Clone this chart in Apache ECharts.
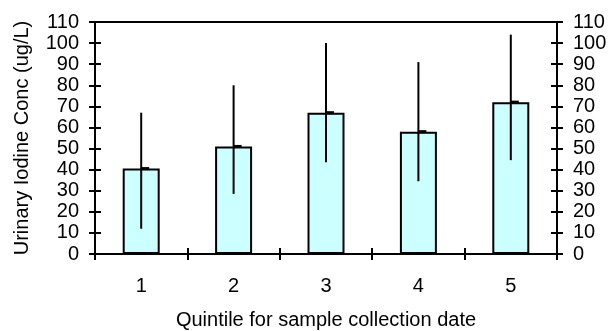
<!DOCTYPE html>
<html>
<head>
<meta charset="utf-8">
<script src="https://cdn.jsdelivr.net/npm/echarts@6/dist/echarts.min.js"></script>
<style>
  html, body { margin: 0; padding: 0; background: #fff; }
  #chart { width: 608px; height: 331px; }
</style>
</head>
<body>
<div id="chart"></div>
<script>
// values
const QUINTILES = ['1', '2', '3', '4', '5'];
const MEAN_CONC = [40.5, 51, 67, 58, 72];
const ERR_LOW = [12, 28.5, 43.5, 34.5, 44.5];
const ERR_HIGH = [67, 80, 100, 91, 104];

const FONT = "'Liberation Sans', Arial, sans-serif";

const chart = echarts.init(document.getElementById('chart'), null, { renderer: 'canvas' });

const labelStyle = { color: '#000', fontSize: 20, fontFamily: FONT };
const lineStyle = { color: '#000', width: 2 };

// whisker + small dash at the mean, right of the whisker
function renderErr(params, api) {
  const x = api.value(0);
  const top = api.coord([x, api.value(2)]);
  const bot = api.coord([x, api.value(1)]);
  const mid = api.coord([x, api.value(3)]);
  return {
    type: 'group',
    children: [
      {
        type: 'line',
        shape: { x1: top[0], y1: top[1], x2: bot[0], y2: bot[1] },
        style: { stroke: '#000', lineWidth: 2 }
      },
      {
        type: 'rect',
        shape: { x: mid[0], y: mid[1] - 1.5, width: 8, height: 3 },
        style: { fill: '#000' }
      }
    ]
  };
}

function yAxisPair(position, withLabels) {
  return [
    {
      type: 'value', position: position, min: 0, max: 110, interval: 10,
      axisLine: { show: true, lineStyle: lineStyle },
      axisTick: { show: true, length: 6, lineStyle: lineStyle },
      axisLabel: Object.assign({ show: withLabels, margin: 16 }, labelStyle),
      splitLine: { show: false }
    },
    {
      type: 'value', position: position, min: 0, max: 110, interval: 10,
      axisLine: { show: false },
      axisTick: { show: true, inside: true, length: 6, lineStyle: lineStyle },
      axisLabel: { show: false },
      splitLine: { show: false }
    }
  ];
}

const leftAxes = yAxisPair('left', true);
leftAxes[0].name = 'Urinary Iodine Conc (ug/L)';
leftAxes[0].nameLocation = 'middle';
leftAxes[0].nameGap = 63;
leftAxes[0].nameTextStyle = { color: '#000', fontSize: 20, fontFamily: FONT };

chart.setOption({
  animation: false,
  backgroundColor: '#fff',
  grid: {
    left: 95, right: 51, top: 22, bottom: 77,
    outerBoundsMode: 'none',
    containLabel: false,
    show: true, borderColor: '#000', borderWidth: 2, backgroundColor: 'transparent'
  },
  xAxis: [
    {
      type: 'category', data: QUINTILES, position: 'bottom',
      axisLine: { show: true, lineStyle: lineStyle },
      axisTick: { show: true, length: 6, lineStyle: lineStyle },
      axisLabel: Object.assign({ margin: 22 }, labelStyle),
      name: 'Quintile for sample collection date',
      nameLocation: 'middle',
      nameGap: 56,
      nameTextStyle: { color: '#000', fontSize: 20, fontFamily: FONT }
    },
    {
      type: 'category', data: QUINTILES, position: 'bottom',
      axisLine: { show: false },
      axisTick: { show: true, inside: true, length: 6, lineStyle: lineStyle },
      axisLabel: { show: false }
    }
  ],
  yAxis: leftAxes.concat(yAxisPair('right', true)),
  series: [
    {
      type: 'bar',
      data: MEAN_CONC,
      barWidth: 37,
      itemStyle: { color: '#ccffff', borderColor: '#000', borderWidth: 2 }
    },
    {
      type: 'custom',
      renderItem: renderErr,
      data: QUINTILES.map((q, i) => [i, ERR_LOW[i], ERR_HIGH[i], MEAN_CONC[i]]),
      encode: { x: 0, y: [1, 2] },
      z: 5
    }
  ]
});
</script>
</body>
</html>
